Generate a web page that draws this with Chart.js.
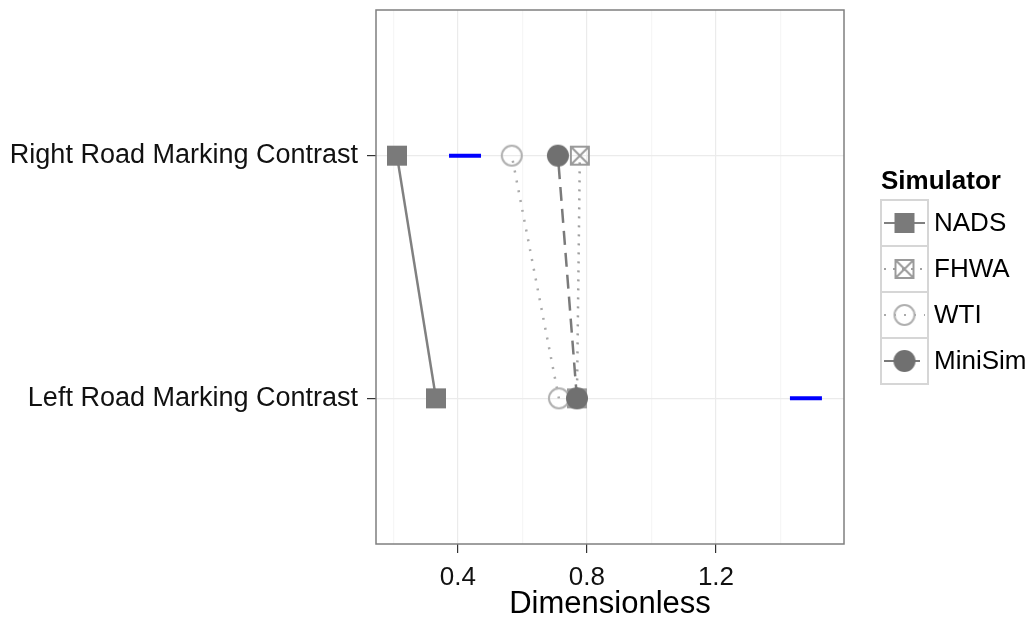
<!DOCTYPE html>
<html>
<head>
<meta charset="utf-8">
<script src="https://cdn.jsdelivr.net/npm/chart.js@4.4.0/dist/chart.umd.min.js"></script>
<style>
  html, body { margin: 0; padding: 0; background: #fff; }
  #wrap { width: 1034px; height: 623px; }
</style>
</head>
<body>
<div id="wrap"><canvas id="chart" width="1034" height="623"></canvas></div>
<script>
// categories on the y axis (position 1 = bottom, 2 = top)
var categories = ['Left Road Marking Contrast', 'Right Road Marking Contrast']
var simulators = ['NADS', 'FHWA', 'WTI', 'MiniSim']

// values per category, same order as categories
var nads = [0.332, 0.211]
var fhwa = [0.769, 0.778]
var wti = [0.713, 0.567]
var minisim = [0.769, 0.710]
var reference = [1.479, 0.422]

var xTicks = [0.2, 0.4, 0.6, 0.8, 1.0, 1.2, 1.4]
var xLabels = ['0.4', '0.8', '1.2']

var FONT = '"Liberation Sans", Arial, Helvetica, sans-serif'

function makeSymbol(draw) {
    var c = document.createElement('canvas')
    c.width = 26
    c.height = 26
    draw(c.getContext('2d'))
    return c
}

var symNads = makeSymbol(function (c) {
    c.fillStyle = '#7a7a7a'
    c.fillRect(3, 3, 20, 20)
})
var symFhwa = makeSymbol(function (c) {
    c.strokeStyle = '#9a9a9a'
    c.lineWidth = 2
    c.strokeRect(4, 4, 18, 18)
    c.beginPath()
    c.moveTo(4, 4); c.lineTo(22, 22)
    c.moveTo(22, 4); c.lineTo(4, 22)
    c.stroke()
})
var symWti = makeSymbol(function (c) {
    c.strokeStyle = '#b0b0b0'
    c.lineWidth = 2
    c.beginPath()
    c.arc(13, 13, 10, 0, Math.PI * 2)
    c.stroke()
})
var symMini = makeSymbol(function (c) {
    c.fillStyle = '#707070'
    c.beginPath()
    c.arc(13, 13, 11, 0, Math.PI * 2)
    c.fill()
})

var styles = [
    { sym: symNads, color: '#808080', dash: [] },
    { sym: symFhwa, color: '#a0a0a0', dash: [2, 7] },
    { sym: symWti, color: '#aaaaaa', dash: [2, 8] },
    { sym: symMini, color: '#7a7a7a', dash: [14, 8] }
]

function points(vals) {
    return vals.map(function (v, i) { return { x: v, y: i + 1 } })
}

var series = [nads, fhwa, wti, minisim]
var datasets = series.map(function (vals, i) {
    return {
        label: simulators[i],
        data: points(vals),
        showLine: true,
        borderColor: styles[i].color,
        borderWidth: 2.5,
        borderDash: styles[i].dash,
        pointStyle: styles[i].sym,
        pointRadius: 11,
        order: 4 - i
    }
})
datasets.push({
    label: 'Reference',
    data: points(reference),
    showLine: false,
    pointStyle: 'line',
    pointRadius: 16,
    pointBorderWidth: 4,
    pointBorderColor: '#0000ff',
    order: 0
})

function isMajor(v) {
    return xLabels.indexOf(v.toFixed(1)) >= 0
}

function noPadding(scale) {
    scale.paddingTop = 0
    scale.paddingBottom = 0
    scale.paddingLeft = 0
    scale.paddingRight = 0
}

//Borda do painel e legenda//
var panelAndLegend = {
    id: 'panelAndLegend',
    afterDraw: function (chart) {
        var c = chart.ctx
        var a = chart.chartArea
        c.save()
        c.strokeStyle = '#7f7f7f'
        c.lineWidth = 1.5
        c.strokeRect(a.left, a.top, a.right - a.left, a.bottom - a.top)

        c.fillStyle = '#000'
        c.font = 'bold 26px ' + FONT
        c.textBaseline = 'alphabetic'
        c.textAlign = 'left'
        c.fillText('Simulator', 881, 189)

        var bx = 881, by = 200, bw = 47, bh = 46
        for (var i = 0; i < simulators.length; i++) {
            var y0 = by + i * bh
            c.fillStyle = '#fff'
            c.fillRect(bx, y0, bw, bh)
            c.strokeStyle = '#d6d6d6'
            c.lineWidth = 2
            c.setLineDash([])
            c.strokeRect(bx, y0, bw, bh)
            c.strokeStyle = styles[i].color
            c.lineWidth = 2
            c.setLineDash(styles[i].dash)
            c.beginPath()
            c.moveTo(bx + 3, y0 + bh / 2)
            c.lineTo(bx + bw - 3, y0 + bh / 2)
            c.stroke()
            c.setLineDash([])
            c.drawImage(styles[i].sym, bx + bw / 2 - 13, y0 + bh / 2 - 13)
            c.fillStyle = '#000'
            c.font = '26px ' + FONT
            c.textBaseline = 'middle'
            c.fillText(simulators[i], 934, y0 + bh / 2 + 1)
        }
        c.restore()
    }
}

var chart = new Chart(document.getElementById('chart'), {
    type: 'scatter',
    data: { datasets: datasets },
    options: {
        responsive: false,
        animation: false,
        layout: { autoPadding: false, padding: { top: 10, right: 190, left: 0, bottom: 0 } },
        plugins: {
            legend: { display: false },
            tooltip: { enabled: false }
        },
        scales: {
            x: {
                type: 'linear',
                min: 0.146,
                max: 1.597,
                afterBuildTicks: function (scale) {
                    scale.ticks = xTicks.map(function (v) { return { value: v } })
                },
                afterFit: function (scale) {
                    scale.height = 79
                    noPadding(scale)
                },
                border: { display: false },
                grid: {
                    color: function (ctx) {
                        return ctx.tick && isMajor(ctx.tick.value) ? '#ebebeb' : '#f6f6f6'
                    },
                    tickColor: function (ctx) {
                        return ctx.tick && isMajor(ctx.tick.value) ? '#333333' : 'rgba(0,0,0,0)'
                    },
                    tickLength: 9,
                    lineWidth: 1.2
                },
                ticks: {
                    autoSkip: false,
                    maxRotation: 0,
                    padding: 9,
                    color: '#111',
                    font: { family: FONT, size: 26 },
                    callback: function (v) {
                        return isMajor(v) ? v.toFixed(1) : ''
                    }
                },
                title: {
                    display: true,
                    text: 'Dimensionless',
                    color: '#000',
                    font: { family: FONT, size: 31 },
                    padding: { top: 0, bottom: 0 }
                }
            },
            y: {
                type: 'linear',
                min: 0.4,
                max: 2.6,
                afterBuildTicks: function (scale) {
                    scale.ticks = categories.map(function (c, i) { return { value: i + 1 } })
                },
                afterFit: function (scale) {
                    scale.width = 376
                    noPadding(scale)
                },
                border: { display: false },
                grid: {
                    color: '#ebebeb',
                    tickColor: '#333333',
                    tickLength: 9,
                    lineWidth: 1.2
                },
                ticks: {
                    autoSkip: false,
                    padding: 9,
                    color: '#111',
                    font: { family: FONT, size: 27 },
                    callback: function (v) {
                        return categories[Math.round(v) - 1]
                    }
                }
            }
        }
    },
    plugins: [panelAndLegend]
})
</script>
</body>
</html>
